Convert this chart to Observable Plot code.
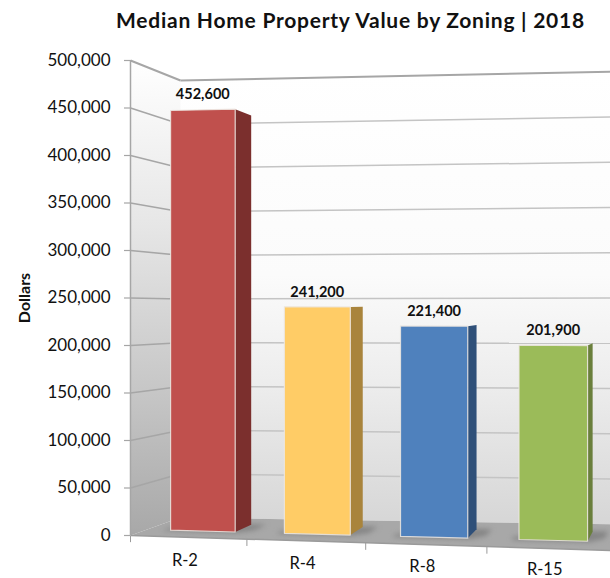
<!DOCTYPE html>
<html>
<head>
<meta charset="utf-8">
<script src="https://cdn.jsdelivr.net/npm/d3@7"></script>
<script src="https://cdn.jsdelivr.net/npm/@observablehq/plot@0.6"></script>
<style>
html,body{margin:0;padding:0;background:#fff;overflow:hidden;width:610px;height:578px}
#title{width:468px;margin-left:116px;height:40px;text-align:center;white-space:nowrap;font:bold 21px/40px Lato,sans-serif;letter-spacing:.75px;color:#111}
svg{display:block}
</style>
</head>
<body>
<div id="title"></div>
<div id="chart"></div>
<script>
const chartTitle = "Median Home Property Value by Zoning | 2018";
const yLabel = "Dollars";
const categories = ["R-2", "R-4", "R-8", "R-15"];
const values = [452600, 241200, 221400, 201900];
const yTicks = [0, 50000, 100000, 150000, 200000, 250000, 300000, 350000, 400000, 450000, 500000];

const frontColors = ["#C0504D", "#FFCC66", "#4F81BD", "#9BBB59"];
const sideColors = ["#7B2F2D", "#A9843C", "#2F5079", "#6A7F3C"];

document.getElementById("title").textContent = chartTitle;

// Oblique view of a box: slot (0..4 across), value (dollars), depth (0 front..1 back)
function project(slot, value, depth) {
  const u0 = slot * (0.96 + 0.01 * slot);
  const x = u0 + (5.17 - u0) * 0.0806 * depth;
  const b0 = -3950 * slot, b1 = 18900 - 1825 * slot;
  const k0 = 1 + 0.0143 * slot, k1 = 0.92 + 0.0084 * slot;
  const y = b0 + (b1 - b0) * depth + value * (k0 + (k1 - k0) * depth);
  return {x, y};
}
const END = 4.3, TOP = 500000, dF = 0.33, dB = 0.705, L = 0.21, R = 0.78;
const quad = (pts) => pts.map(([s, v, d]) => project(s, v, d));
const poly = (pts, o) => Plot.line(quad(pts), {x: "x", y: "y", stroke: "none", curve: "linear-closed", ...o});
const seg = (a, b) => { const p = project(...a), q = project(...b); return {x1: p.x, y1: p.y, x2: q.x, y2: q.y}; };

const gradient = (id, stops) => {
  const g = d3.create("svg:linearGradient").attr("id", id).attr("x1", 0).attr("y1", 0).attr("x2", 0).attr("y2", 1);
  stops.forEach(([o, c]) => g.append("stop").attr("offset", o).attr("stop-color", c));
  return g.node();
};
const defs = () => {
  const d = d3.create("svg:defs");
  d.append(() => gradient("wallBack", [[0, "#ffffff"], [0.45, "#fbfbfb"], [0.7, "#ececec"], [1, "#d6d6d6"]]));
  d.append(() => gradient("wallSide", [[0, "#ffffff"], [0.35, "#e6e6e6"], [0.7, "#c6c6c6"], [1, "#a8a8a8"]]));
  return d.node();
};

const barMarks = categories.flatMap((c, i) => {
  const l = i + L, r = i + R, v = values[i];
  return [
    poly([[l - 0.06, 0, dF - 0.03], [r + 0.02, 0, dF - 0.03], [r + 0.13, 0, dF + 0.12], [r + 0.13, 0, dB + 0.02], [r - 0.05, 0, dB + 0.02], [l - 0.06, 0, dF + 0.1]],
      {fill: "#858585", imageFilter: "blur(2.5px)"}),
    poly([[r, 0, dF], [r, 0, dB], [r, v, dB], [r, v, dF]], {fill: sideColors[i]}),
    poly([[l, 0, dF], [r, 0, dF], [r, v, dF], [l, v, dF]], {fill: frontColors[i], stroke: "#ece6e0", strokeWidth: 1.2, strokeOpacity: 0.85})
  ];
});

const plot = Plot.plot({
  width: 610,
  height: 538,
  marginLeft: 130,
  marginRight: 0,
  marginTop: 20,
  marginBottom: 43,
  x: {domain: [0, 4], axis: null},
  y: {domain: [0, TOP], axis: null},
  style: {background: "transparent", fontFamily: "Lato, sans-serif"},
  marks: [
    defs,
    poly([[0, 0, 1], [END, 0, 1], [END, TOP, 1], [0, TOP, 1]], {fill: "url(#wallBack)"}),
    poly([[0, 0, 0], [0, 0, 1], [0, TOP, 1], [0, TOP, 0]], {fill: "url(#wallSide)"}),
    poly([[0, 0, 0], [END, 0, 0], [END, 0, 1], [0, 0, 1]], {fill: "#a8a8a8"}),
    Plot.link(yTicks.slice(1, -1).map((v) => seg([0, v, 1], [END, v, 1])), {x1: "x1", y1: "y1", x2: "x2", y2: "y2", stroke: "#c4c4c4", strokeWidth: 1.5}),
    Plot.link(yTicks.slice(1, -1).map((v) => seg([0, v, 0], [0, v, 1])), {x1: "x1", y1: "y1", x2: "x2", y2: "y2", stroke: "#a6a6a6", strokeWidth: 1.5}),
    Plot.link([seg([0, TOP, 0], [0, TOP, 1]), seg([0, TOP, 1], [END, TOP, 1])], {x1: "x1", y1: "y1", x2: "x2", y2: "y2", stroke: "#a6a6a6", strokeWidth: 2}),
    Plot.link([seg([0, 0, 0], [END, 0, 0])], {x1: "x1", y1: "y1", x2: "x2", y2: "y2", stroke: "#9a9a9a", strokeWidth: 1.5}),
    Plot.ruleX([0], {y1: 0, y2: TOP, stroke: "#a6a6a6", strokeWidth: 1.5}),
    ...barMarks,
    Plot.link([0, 1, 2, 3].map((s) => seg([s, 0, 0], [s, -7000, 0])), {x1: "x1", y1: "y1", x2: "x2", y2: "y2", stroke: "#9a9a9a", strokeWidth: 1}),
    Plot.axisY({ticks: yTicks, tickFormat: d3.format(","), tickSize: 6, stroke: "#a6a6a6", strokeWidth: 1.2, fontSize: 17, fill: "#111", label: null, tickPadding: 14}),
    Plot.text(categories.map((c, i) => ({c, ...project(i + 0.47, -25000 + 1000 * (i + 0.5), 0)})), {x: "x", y: "y", text: "c", fontSize: 16.5, fill: "#111"}),
    Plot.text(values.map((v, i) => ({t: d3.format(",")(v), ...project(i + (L + R) / 2, v, dF)})), {x: "x", y: "y", text: "t", dy: -15, fontSize: 14.5, fontWeight: "bold", fill: "#111"}),
    Plot.text([yLabel], {frameAnchor: "left", textAnchor: "middle", rotate: -90, dx: -106, fontSize: 16, fontWeight: "bold", fill: "#111"})
  ]
});
document.getElementById("chart").appendChild(plot);
</script>
</body>
</html>
